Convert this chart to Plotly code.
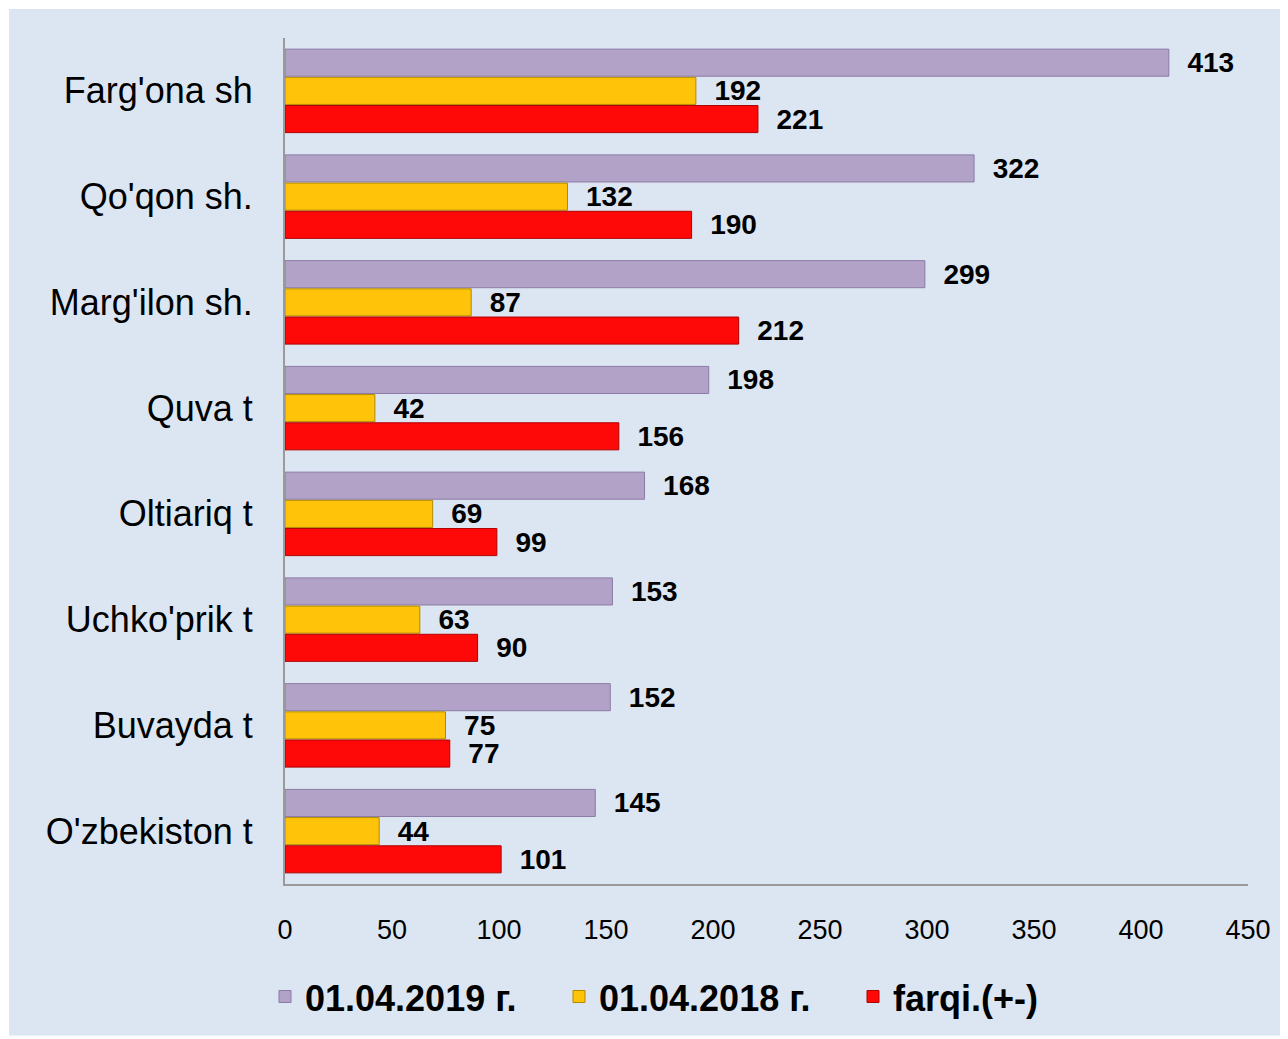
import plotly.graph_objects as go

categories = ["Farg'ona sh", "Qo'qon sh.", "Marg'ilon sh.", "Quva t", "Oltiariq t",
              "Uchko'prik t", "Buvayda t", "O'zbekiston t"]
series_names = ["01.04.2019 г.", "01.04.2018 г.", "farqi.(+-)"]
v2019 = [413, 322, 299, 198, 168, 153, 152, 145]
v2018 = [192, 132, 87, 42, 69, 63, 75, 44]
diff = [221, 190, 212, 156, 99, 90, 77, 101]
x_ticks = [0, 50, 100, 150, 200, 250, 300, 350, 400, 450]

fills = ["#b3a2c7", "#ffc40a", "#ff0808"]
edges = ["#8a7aa6", "#b08a00", "#b00000"]

# page body has an 8px margin; figure sized to fill the rest of the window
W, H = 1280, 1031
L, R, T, B = 277, 40, 30, 152

fig = go.Figure()
for name, vals, fc, ec in zip(series_names, [v2019, v2018, diff], fills, edges):
    fig.add_trace(go.Bar(
        y=categories, x=vals, name=name, orientation="h",
        marker=dict(color=fc, line=dict(color=ec, width=1)),
        text=vals, texttemplate="\u00a0\u00a0%{x}", textposition="outside",
        constraintext="none", cliponaxis=False,
        textfont=dict(family="Liberation Sans, Arial", size=28, color="black", weight="bold"),
    ))

pw = W - L - R
ph = H - T - B
fig.add_shape(type="rect", xref="paper", yref="paper", layer="below",
              x0=(1 - L) / pw, x1=(W - L) / pw,
              y0=(H - B - H) / ph, y1=(H - B - 1) / ph,
              fillcolor="#dce6f2", line=dict(width=0))

fig.update_layout(
    width=W, height=H,
    margin=dict(l=L, r=R, t=T, b=B),
    paper_bgcolor="white", plot_bgcolor="rgba(0,0,0,0)",
    barmode="group", bargap=0.2, bargroupgap=0.04,
    font=dict(family="Liberation Sans, Arial", color="black"),
    showlegend=True,
    legend=dict(orientation="h", x=(257 - L) / pw, xanchor="left",
                y=(H - B - 992) / ph, yanchor="middle",
                font=dict(size=36, weight="bold", color="black"),
                bgcolor="rgba(0,0,0,0)", itemwidth=30,
                entrywidth=249, entrywidthmode="pixels"),
    xaxis=dict(range=[0, 450], tickvals=x_ticks, showgrid=False, zeroline=False,
               showline=True, linecolor="#9a9a9a", linewidth=2,
               ticks="", ticklabelstandoff=21, tickfont=dict(size=27, color="black")),
    yaxis=dict(categoryorder="array", categoryarray=categories, autorange="reversed",
               showgrid=False, showline=True, linecolor="#9a9a9a", linewidth=2,
               ticks="", ticklabelstandoff=23, tickfont=dict(size=36, color="black")),
)

fig.write_html("out.html")
